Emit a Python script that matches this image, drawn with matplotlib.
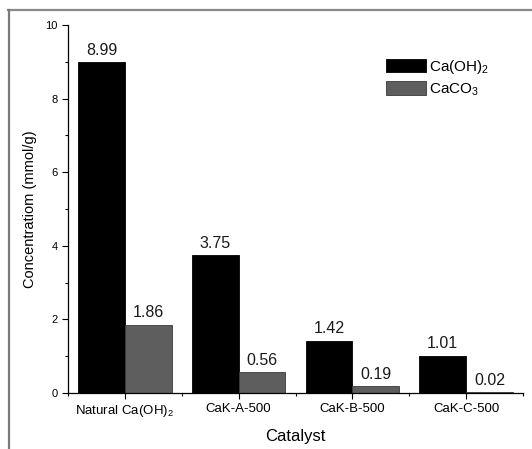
import matplotlib.pyplot as plt
from matplotlib.lines import Line2D
from matplotlib.ticker import MultipleLocator
import numpy as np

plt.rcParams['font.family'] = ['Liberation Sans', 'DejaVu Sans']
plt.rcParams['mathtext.fontset'] = 'custom'
plt.rcParams['mathtext.rm'] = 'Liberation Sans'

catalysts = ['Natural Ca(OH)$_2$', 'CaK-A-500', 'CaK-B-500', 'CaK-C-500']
caoh2 = [8.99, 3.75, 1.42, 1.01]
caco3 = [1.86, 0.56, 0.19, 0.02]
series_names = ['Ca(OH)$_2$', 'CaCO$_3$']

W, H = 532, 449
fig = plt.figure(figsize=(W / 100, H / 100), dpi=100)
ax = fig.add_axes([68 / W, 1 - 393 / H, 455 / W, 368 / H])

x = np.arange(1, len(catalysts) + 1)
w = 0.41
b1 = ax.bar(x - w / 2, caoh2, w, color='black', edgecolor='black', lw=0.6, label=series_names[0])
b2 = ax.bar(x + w / 2, caco3, w, color='#5e5e5e', edgecolor='#3a3a3a', lw=0.6, label=series_names[1])

for bars, vals in [(b1, caoh2), (b2, caco3)]:
    for r, v in zip(bars, vals):
        ax.text(r.get_x() + r.get_width() / 2, v + 0.12, f'{v:.2f}',
                ha='center', va='bottom', fontsize=11.5, color='#1a1a1a')

ax.set_xlim(0.5, 4.5)
ax.set_ylim(0, 10)
ax.set_xticks(x)
ax.set_xticklabels(catalysts, fontsize=9.5)
ax.xaxis.set_minor_locator(MultipleLocator(1, offset=0.5))
ax.yaxis.set_major_locator(MultipleLocator(2))
ax.yaxis.set_minor_locator(MultipleLocator(1))
ax.tick_params(axis='both', which='major', direction='out', length=4, width=0.8)
ax.tick_params(axis='both', which='minor', direction='out', length=2, width=0.8)
ax.tick_params(axis='y', labelsize=8)

for s in ['top', 'right']:
    ax.spines[s].set_visible(False)
for s in ['left', 'bottom']:
    ax.spines[s].set_linewidth(0.9)

ax.set_xlabel('Catalyst', fontsize=12, labelpad=7)
ax.set_ylabel('Concentratiom (mmol/g)', fontsize=10.5, labelpad=6)

ax.legend(loc='upper left', bbox_to_anchor=(0.675, 0.94), frameon=False,
          fontsize=11, handlelength=2.6, handleheight=1.0,
          handletextpad=0.25, labelspacing=0.35, borderpad=0.2)

# page frame around the figure
fig.add_artist(Line2D([8 / W, 1], [1 - 10 / H, 1 - 10 / H], color='#8a8a8a', lw=1.6))
fig.add_artist(Line2D([9 / W, 9 / W], [0, 1 - 10 / H], color='#7a7a7a', lw=1.6))

fig.savefig('out.png', dpi=100)
